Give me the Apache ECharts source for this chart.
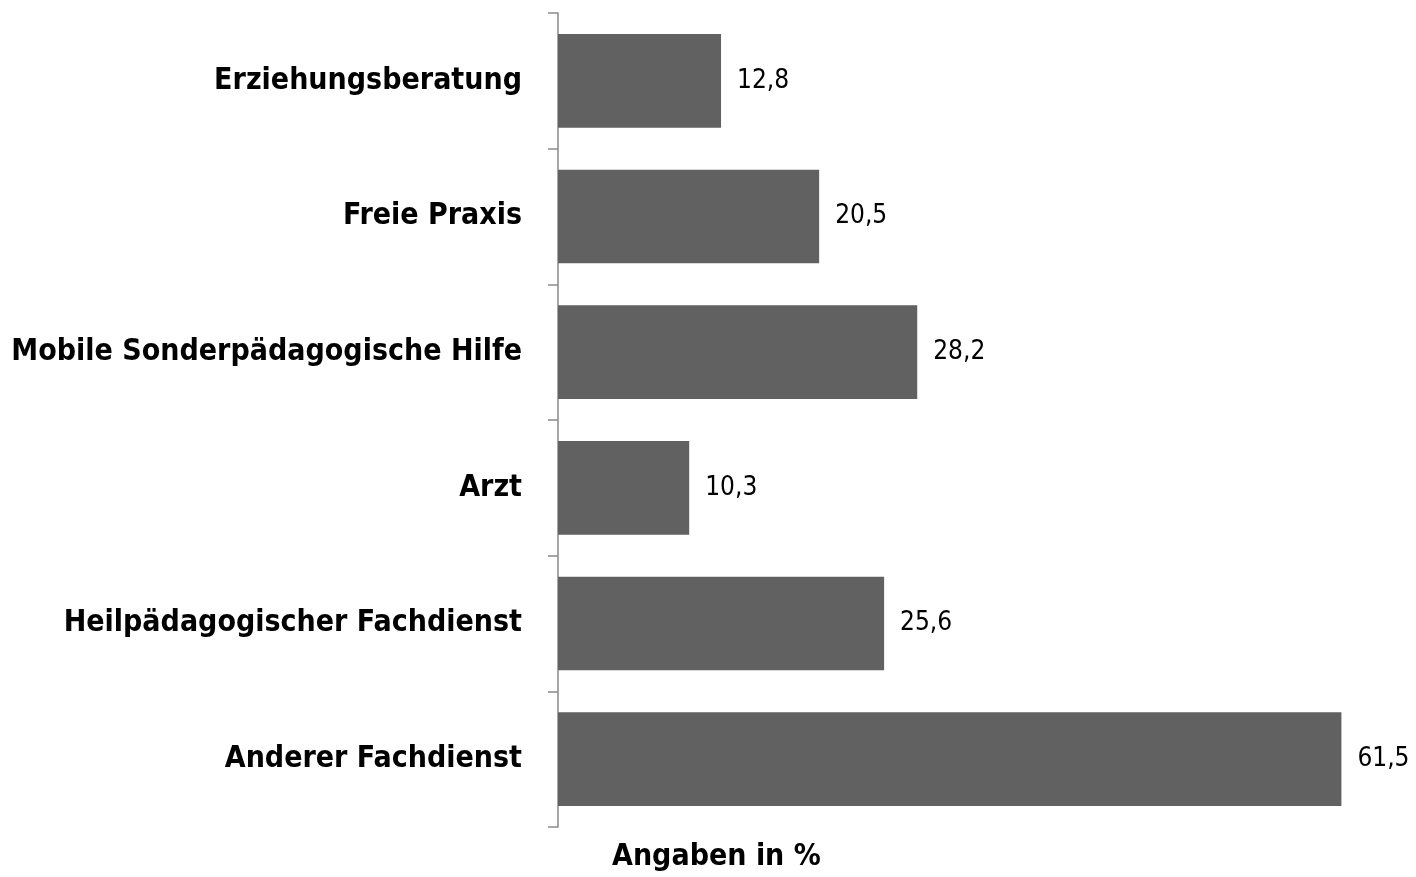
<!DOCTYPE html>
<html>
<head>
<meta charset="utf-8">
<script src="https://cdn.jsdelivr.net/npm/echarts@6/dist/echarts.min.js"></script>
<style>
  html, body { margin: 0; padding: 0; background: #fff; }
  #chart { width: 1416px; height: 877px; }
</style>
</head>
<body>
<div id="chart"></div>
<script>
var categories = ['Erziehungsberatung', 'Freie Praxis', 'Mobile Sonderpädagogische Hilfe', 'Arzt', 'Heilpädagogischer Fachdienst', 'Anderer Fachdienst'];
var values = [12.8, 20.5, 28.2, 10.3, 25.6, 61.5];
var axisName = 'Angaben in %';

var font = '"DejaVu Sans Condensed", "Liberation Sans", Arial, sans-serif';
var chart = echarts.init(document.getElementById('chart'));

var option = {
	backgroundColor: '#fff',
	animation: false,
	grid: {
		left: 558,
		right: 30,
		top: 13,
		bottom: 50
	},
	xAxis: {
		type: 'value',
		min: 0,
		max: 65,
		show: false
	},
	yAxis: {
		type: 'category',
		inverse: true,
		data: categories,
		axisLine: { show: true, lineStyle: { color: '#8a8a8a', width: 1.5 } },
		axisTick: { show: true, length: 10, lineStyle: { color: '#8a8a8a', width: 1.5 } },
		axisLabel: {
			margin: 36,
			color: '#000',
			fontFamily: font,
			fontWeight: 'bold',
			fontSize: 30
		}
	},
	series: [{
		type: 'bar',
		data: values,
		barCategoryGap: '31%',
		itemStyle: { color: '#616161' },
		label: {
			show: true,
			position: 'right',
			distance: 16,
			color: '#000',
			fontFamily: font,
			fontSize: 26,
			formatter: function (p) {
				return String(p.value).replace('.', ',');
			}
		}
	}],
	graphic: [{
		type: 'text',
		left: 612,
		top: 842,
		style: {
			text: axisName,
			fill: '#000',
			font: 'bold 30px ' + font
		}
	}]
};

chart.setOption(option);
</script>
</body>
</html>
